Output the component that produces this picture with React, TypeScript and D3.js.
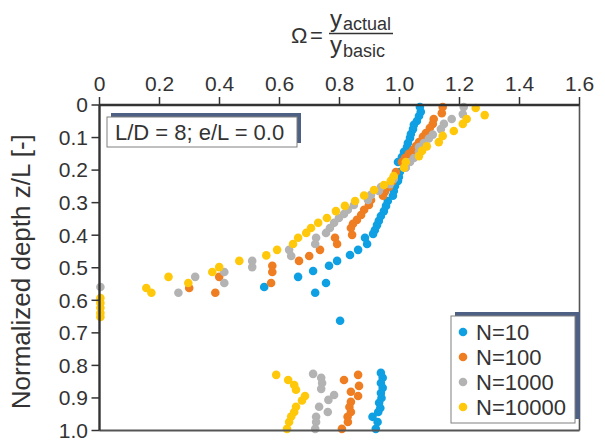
import React from "react";
import * as d3 from "d3";

// ---- data (omega, z/L) ----
const seriesN10: [number, number][] = [
  [1.068, 0.006], [1.071, 0.021], [1.065, 0.034], [1.058, 0.049], [1.048, 0.061],
  [1.045, 0.074], [1.038, 0.089], [1.035, 0.101], [1.028, 0.117], [1.025, 0.129],
  [1.015, 0.144], [1.008, 0.16], [0.995, 0.175], [1.001, 0.206], [0.998, 0.221],
  [0.995, 0.233], [0.985, 0.249], [0.981, 0.264], [0.978, 0.279], [0.961, 0.295],
  [0.955, 0.31], [0.948, 0.326], [0.938, 0.341], [0.931, 0.356], [0.925, 0.369],
  [0.918, 0.384], [0.912, 0.396], [0.885, 0.408], [0.892, 0.427], [0.862, 0.445],
  [0.835, 0.461], [0.792, 0.479], [0.765, 0.494], [0.712, 0.51], [0.662, 0.528],
  [0.755, 0.547], [0.549, 0.559], [0.719, 0.577], [0.802, 0.663],
  [0.938, 0.823], [0.944, 0.838], [0.938, 0.854], [0.944, 0.869], [0.938, 0.885],
  [0.94, 0.9], [0.932, 0.915], [0.936, 0.931], [0.929, 0.943], [0.91, 0.958],
  [0.927, 0.974], [0.921, 0.995],
];
const seriesN100: [number, number][] = [
  [1.144, 0.006], [1.141, 0.025], [1.114, 0.043], [1.111, 0.058], [1.101, 0.071],
  [1.088, 0.086], [1.078, 0.098], [1.065, 0.114], [1.055, 0.126], [1.045, 0.138],
  [1.031, 0.15], [1.018, 0.163], [1.008, 0.175], [0.988, 0.206], [0.981, 0.221],
  [0.975, 0.236], [0.965, 0.252], [0.951, 0.267], [0.945, 0.279], [0.905, 0.292],
  [0.898, 0.307], [0.882, 0.322], [0.872, 0.338], [0.858, 0.353], [0.845, 0.365],
  [0.838, 0.378], [0.842, 0.399], [0.785, 0.408], [0.792, 0.427], [0.735, 0.445],
  [0.699, 0.464], [0.665, 0.479], [0.576, 0.494], [0.576, 0.513], [0.572, 0.547],
  [0.399, 0.528], [0.386, 0.577], [0.299, 0.562],
  [0.862, 0.829], [0.815, 0.845], [0.865, 0.863], [0.838, 0.881], [0.862, 0.894],
  [0.838, 0.912], [0.833, 0.928], [0.838, 0.943], [0.827, 0.958], [0.828, 0.974],
  [0.808, 0.995],
];
const seriesN1000: [number, number][] = [
  [1.214, 0.006], [1.211, 0.028], [1.174, 0.043], [1.148, 0.058], [1.138, 0.074],
  [1.111, 0.091], [1.098, 0.103], [1.081, 0.117], [1.065, 0.129], [1.065, 0.144],
  [1.048, 0.163], [1.035, 0.175], [1.021, 0.193], [0.981, 0.227], [0.968, 0.243],
  [0.938, 0.252], [0.931, 0.264], [0.905, 0.276], [0.895, 0.292], [0.848, 0.307],
  [0.828, 0.322], [0.815, 0.335], [0.798, 0.347], [0.782, 0.362], [0.768, 0.378],
  [0.755, 0.393], [0.722, 0.408], [0.719, 0.427], [0.632, 0.445], [0.639, 0.464],
  [0.509, 0.479], [0.509, 0.498], [0.416, 0.513], [0.416, 0.547], [0.319, 0.528],
  [0.263, 0.577], [0.003, 0.559],
  [0.712, 0.826], [0.739, 0.838], [0.742, 0.854], [0.739, 0.872], [0.782, 0.891],
  [0.763, 0.906], [0.732, 0.927], [0.761, 0.943], [0.722, 0.958], [0.722, 0.974],
  [0.719, 0.995],
];
const seriesN10000: [number, number][] = [
  [1.254, 0.009], [1.284, 0.031], [1.224, 0.043], [1.211, 0.058], [1.181, 0.08],
  [1.144, 0.095], [1.131, 0.114], [1.091, 0.127], [1.075, 0.141], [1.065, 0.157],
  [1.021, 0.175], [1.015, 0.193], [0.981, 0.218], [0.971, 0.233], [0.948, 0.246],
  [0.915, 0.261], [0.882, 0.278], [0.852, 0.295], [0.818, 0.31], [0.788, 0.326],
  [0.758, 0.347], [0.729, 0.362], [0.705, 0.378], [0.689, 0.393], [0.662, 0.408],
  [0.645, 0.427], [0.592, 0.445], [0.556, 0.462], [0.466, 0.479], [0.399, 0.498],
  [0.376, 0.513], [0.296, 0.547], [0.23, 0.528], [0.156, 0.562], [0.173, 0.577],
  [0.003, 0.593], [0.003, 0.608], [0.003, 0.623], [0.003, 0.639], [0.003, 0.651],
  [0.589, 0.829], [0.629, 0.845], [0.649, 0.86], [0.655, 0.875], [0.685, 0.894],
  [0.675, 0.908], [0.655, 0.927], [0.649, 0.943], [0.639, 0.957], [0.632, 0.974],
  [0.625, 0.995],
];

const seriesNames = ["N=10", "N=100", "N=1000", "N=10000"];
const seriesColors = ["#0ea0e2", "#ef7d22", "#b3b3b3", "#ffc80a"];
const allSeries = [seriesN10, seriesN100, seriesN1000, seriesN10000];

const xTickValues = [0, 0.2, 0.4, 0.6, 0.8, 1.0, 1.2, 1.4, 1.6];
const xTickLabels = ["0", "0.2", "0.4", "0.6", "0.8", "1.0", "1.2", "1.4", "1.6"];
const yTickValues = [0, 0.1, 0.2, 0.3, 0.4, 0.5, 0.6, 0.7, 0.8, 0.9, 1.0];
const yTickLabels = ["0", "0.1", "0.2", "0.3", "0.4", "0.5", "0.6", "0.7", "0.8", "0.9", "1.0"];

const annotationText = "L/D = 8; e/L = 0.0";
const yAxisTitle = "Normalized depth z/L [-]";

const FONT = "'Liberation Sans', Arial, Helvetica, sans-serif";
const TXT = "#333333";
const SHADOW = "#4e6084";

export default function App() {
  const W = 605, H = 441;
  const x = d3.scaleLinear().domain([0, 1.6]).range([99.5, 579.5]);
  const y = d3.scaleLinear().domain([0, 1]).range([105, 430.5]);
  const x0 = x(0), x1 = x(1.6), y0 = y(0), y1 = y(1);

  return (
    <svg width={W} height={H} style={{ position: "absolute", left: 0, top: 0 }} fontFamily={FONT}>
      <rect width={W} height={H} fill="#ffffff" />

      {/* title */}
      <g fill={TXT}>
        <text x={291} y={43} fontSize={22}>Ω</text>
        <text x={310} y={43} fontSize={22}>=</text>
        <line x1={329} x2={393} y1={33.5} y2={33.5} stroke={TXT} strokeWidth={1.3} />
        <text x={330} y={27} fontSize={24}>y</text>
        <text x={343} y={30} fontSize={18}>actual</text>
        <text x={330} y={53} fontSize={24}>y</text>
        <text x={343} y={57} fontSize={18}>basic</text>
      </g>

      {/* data points */}
      {allSeries.map((s, i) => (
        <g key={i} fill={seriesColors[i]}>
          {s.map((d, j) => (
            <circle key={j} cx={x(d[0])} cy={y(d[1])} r={4.3} />
          ))}
        </g>
      ))}

      {/* frame */}
      <line x1={x1} x2={x1} y1={y0} y2={y1} stroke="#555" strokeWidth={1.6} />
      <line x1={x0} x2={x1} y1={y1} y2={y1} stroke="#555" strokeWidth={2} />

      {/* top axis */}
      <line x1={x0} x2={x1} y1={y0} y2={y0} stroke="#333" strokeWidth={2.4} />
      {xTickValues.map((v, i) => (
        <g key={i}>
          <line x1={x(v)} x2={x(v)} y1={y0} y2={y0 - 8} stroke="#333" strokeWidth={1.5} />
          <text x={x(v)} y={91} fontSize={21} textAnchor="middle" fill={TXT}>{xTickLabels[i]}</text>
        </g>
      ))}

      {/* left axis */}
      <line x1={x0} x2={x0} y1={y0} y2={y1} stroke="#333" strokeWidth={2.4} />
      {yTickValues.map((v, i) => (
        <g key={i}>
          <line x1={x0 - 8} x2={x0} y1={y(v)} y2={y(v)} stroke="#333" strokeWidth={1.5} />
          <text x={88} y={y(v)} dy="0.35em" fontSize={21} textAnchor="end" fill={TXT}>{yTickLabels[i]}</text>
        </g>
      ))}

      <text transform={`translate(30,${(y0 + y1) / 2 + 4}) rotate(-90)`} fontSize={26} textAnchor="middle" fill={TXT}>
        {yAxisTitle}
      </text>

      {/* annotation */}
      <rect x={111} y={113} width={190} height={30} fill={SHADOW} />
      <rect x={107} y={117} width={190} height={30} fill="#fff" stroke="#808080" strokeWidth={1} />
      <text x={115} y={140} fontSize={22} fill={TXT}>{annotationText}</text>

      {/* legend */}
      <rect x={455} y={312} width={125} height={107} fill={SHADOW} />
      <rect x={451} y={316} width={124} height={107} fill="#fff" stroke="#808080" strokeWidth={1} />
      {seriesNames.map((n, i) => (
        <g key={n}>
          <circle cx={463} cy={332 + i * 25} r={4.3} fill={seriesColors[i]} />
          <text x={476} y={332 + i * 25 + 8} fontSize={22} fill={TXT}>{n}</text>
        </g>
      ))}
    </svg>
  );
}
